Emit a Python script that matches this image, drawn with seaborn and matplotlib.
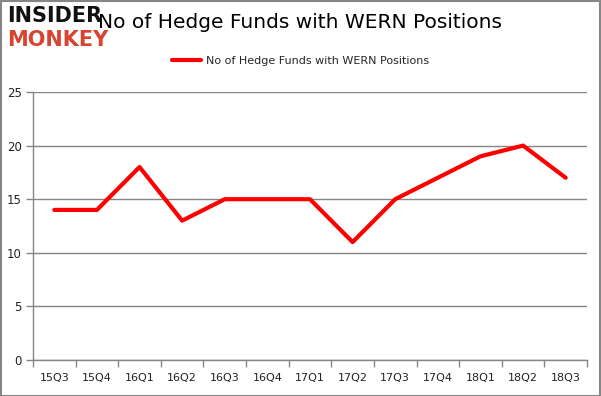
import pandas as pd
import numpy as np
import matplotlib
matplotlib.use("Agg")
import matplotlib.pyplot as plt
import seaborn as sns

# Data
quarters = ["15Q3", "15Q4", "16Q1", "16Q2", "16Q3", "16Q4", "17Q1",
            "17Q2", "17Q3", "17Q4", "18Q1", "18Q2", "18Q3"]
hedge_funds = [14, 14, 18, 13, 15, 15, 15, 11, 15, 17, 19, 20, 17]
series_name = "No of Hedge Funds with WERN Positions"

df = pd.DataFrame({"quarter": quarters, "funds": hedge_funds})
df["pos"] = np.arange(len(quarters))

sns.set_style("white")
plt.rcParams["font.family"] = ["DejaVu Sans"]

fig = plt.figure(figsize=(6.01, 3.96), dpi=100)
ax = fig.add_axes([0.0549, 0.0909, 0.9218, 0.6768])

sns.lineplot(data=df, x="pos", y="funds", ax=ax, color="#ff0000",
             linewidth=3, label=series_name, legend=False)

grid_c = "#868686"
ax.set_ylim(0, 25)
ax.set_yticks([0, 5, 10, 15, 20, 25])
ax.yaxis.grid(True, color=grid_c, linewidth=1)
ax.set_axisbelow(True)
ax.set_xlim(-0.5, len(quarters) - 0.5)
ax.set_xticks(df["pos"])
ax.set_xticklabels(quarters)
ax.set_xticks(np.arange(-0.5, len(quarters)), minor=True)
ax.tick_params(axis="x", which="major", bottom=True, length=0, pad=9,
               labelsize=8, colors="#222222")
ax.tick_params(axis="x", which="minor", bottom=True, length=5, color=grid_c,
               width=1, direction="out")
ax.tick_params(axis="y", left=True, length=5, color=grid_c, width=1, direction="out",
               labelsize=8.5, labelcolor="#222222", pad=3)
ax.set_xlabel("")
ax.set_ylabel("")
for s in ["top", "right"]:
    ax.spines[s].set_visible(False)
for s in ["left", "bottom"]:
    ax.spines[s].set_color(grid_c)
    ax.spines[s].set_linewidth(1)

# legend
fig.legend(handles=ax.get_lines()[:1], labels=[series_name], loc="center",
           bbox_to_anchor=(0.5, 1 - 61 / 396), frameon=False, fontsize=8,
           handlelength=2.6, handletextpad=0.4)

# title
fig.text(0.5, 1 - 22 / 396, series_name, ha="center", va="center",
         fontsize=14.5, color="#000000")

# logo
fig.text(0.012, 1 - 16 / 396, "INSIDER", ha="left", va="center",
         fontsize=15, fontweight="heavy", color="#111111")
fig.text(0.012, 1 - 40 / 396, "MONKEY", ha="left", va="center",
         fontsize=15, fontweight="heavy", color="#d9432f")

# outer border
fig.patches.append(plt.Rectangle((0.001, 0.001), 0.997, 0.997, transform=fig.transFigure,
                                 fill=False, edgecolor="#868686", linewidth=1.5))

fig.savefig("out.png", dpi=100)
